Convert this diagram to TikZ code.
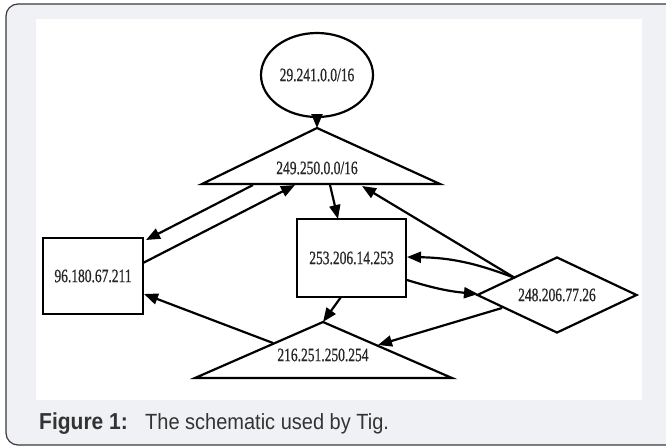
\documentclass[tikz,border=0pt]{standalone}
\usepackage{fontspec}
\setmainfont{Liberation Serif}
\newfontfamily\capfont{Liberation Sans}
\newfontfamily\ipfont[UprightFeatures={FakeBold=0.9}]{Liberation Serif}
\usetikzlibrary{shapes.geometric,arrows.meta}
\definecolor{framebg}{HTML}{F0F1F4}
\definecolor{framecol}{HTML}{3A3A3A}
\definecolor{captext}{HTML}{333333}
\newcommand{\iplabel}[1]{\scalebox{1}[1.4]{#1}}
\tikzset{
  shp/.style={draw=black, line width=2.2pt, fill=white, inner sep=0pt},
  lbl/.style={font=\ipfont\fontsize{13.5}{15}\selectfont, inner sep=0pt, text=black!85},
  edge/.style={line width=2.2pt, -{Triangle[length=14pt,width=11pt]}},
}
\begin{document}
\begin{tikzpicture}[x=1pt,y=-1pt]
\useasboundingbox (0,0) rectangle (666,447);
% frame
\draw[framecol, fill=framebg, line width=1.2pt, rounded corners=12pt] (6,4) rectangle (678,445);
\fill[white] (36,19) rectangle (642,400);
% nodes
\node[shp, ellipse, minimum width=112pt, minimum height=84pt] (e) at (317,75) {};
\node[lbl] at (e.center) {\iplabel{29.241.0.0/16}};
\coordinate (t1a) at (317,128);
\coordinate (t1l) at (202,184);
\coordinate (t1r) at (440,184);
\draw[line width=2.2pt, line join=miter, fill=white] (t1a) -- (t1r) -- (t1l) -- cycle;
\node[lbl] (t1) at (317,168) {\iplabel{249.250.0.0/16}};
\node[shp, rectangle, minimum width=100pt, minimum height=76pt] (r96) at (93,276) {};
\node[lbl] at (r96.center) {\iplabel{96.180.67.211}};
\node[shp, rectangle, minimum width=109pt, minimum height=78pt] (r253) at (351.5,258) {};
\node[lbl] at (r253.center) {\iplabel{253.206.14.253}};
\node[shp, diamond, aspect=2.1, minimum width=160pt, minimum height=76pt] (d) at (557,295) {};
\node[lbl] at (d.center) {\iplabel{248.206.77.26}};
\coordinate (t2a) at (323,322);
\coordinate (t2l) at (195,378);
\coordinate (t2r) at (452,378);
\draw[line width=2.2pt, line join=miter, fill=white] (t2a) -- (t2r) -- (t2l) -- cycle;
\node[lbl] (t2) at (323,355) {\iplabel{216.251.250.254}};
% edge end points
\coordinate (p2s) at (253,185);
\coordinate (p2e) at (146,240);
\coordinate (p3s) at (143,263);
\coordinate (p3e) at (295,185);
\coordinate (p4s) at (330,185);
\coordinate (p4e) at (338,219);
\coordinate (p5s) at (515,278);
\coordinate (p5e) at (362,186);
\coordinate (p6e) at (407,257);
\coordinate (p7s) at (407,280);
\coordinate (p7e) at (478,294);
\coordinate (p8s) at (341,297);
\coordinate (p9s) at (502,308);
\coordinate (p9e) at (378,345);
\coordinate (p10s) at (273,343);
\coordinate (p10e) at (144,294);
% edges
\draw[edge] (e.south) -- (t1a);
\draw[edge] (p2s) -- (p2e);
\draw[edge] (p3s) -- (p3e);
\draw[edge] (p4s) -- (p4e);
\draw[edge] (p5s) -- (p5e);
\draw[edge] (p5s) to[bend right=10] (p6e);
\draw[edge] (p7s) to[bend right=6] (p7e);
\draw[edge] (p8s) -- (t2a);
\draw[edge] (p9s) -- (p9e);
\draw[edge] (p10s) -- (p10e);
% caption
\node[anchor=base west, inner sep=0pt, text=captext, font=\capfont\bfseries\fontsize{21}{24}\selectfont] (capb) at (39,429) {\scalebox{1}[1.1]{Figure 1:}};
\node[anchor=base west, inner sep=0pt, text=captext, font=\capfont\fontsize{20}{24}\selectfont] (capt) at (145,429) {\scalebox{1}[1.1]{The schematic used by Tig.}};
\end{tikzpicture}
\end{document}
